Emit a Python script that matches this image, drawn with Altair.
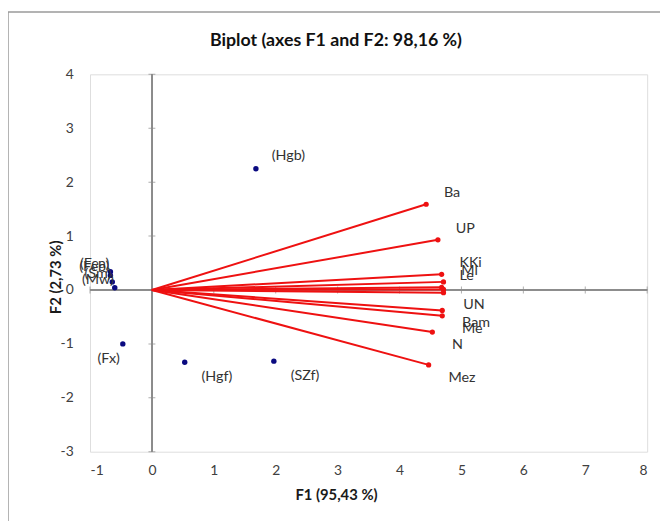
import altair as alt
import pandas as pd

# Variables (vectors)
var_names = ["Ba", "UP", "KKi", "Ml", "Le", "", "UN", "Bam", "Me", "N", "Mez"]
var_f1 = [4.43, 4.62, 4.68, 4.71, 4.68, 4.71, 4.71, 4.69, 4.69, 4.53, 4.47]
var_f2 = [1.59, 0.93, 0.29, 0.15, 0.05, 0.01, -0.05, -0.38, -0.48, -0.78, -1.39]

# Observations
obs_names = ["(Hgb)", "(Fx)", "(Hgf)", "(SZf)", "(Fea)", "(Feb)", "(Sm)", "(Mw)"]
obs_f1 = [1.68, -0.47, 0.53, 1.97, -0.67, -0.67, -0.64, -0.60]
obs_f2 = [2.25, -1.00, -1.34, -1.32, 0.34, 0.27, 0.15, 0.04]

x_ticks = [-1, 0, 1, 2, 3, 4, 5, 6, 7, 8]
y_ticks = [-3, -2, -1, 0, 1, 2, 3, 4]

title_text = "Biplot (axes F1 and F2: 98,16 %)"

W, H = 564, 382
FONT = "Lato"

vars_df = pd.DataFrame({"name": var_names, "f1": var_f1, "f2": var_f2,
                        "x0": 0.0, "y0": 0.0})
obs_df = pd.DataFrame({"name": obs_names, "f1": obs_f1, "f2": obs_f2})
xt_df = pd.DataFrame({"v": x_ticks, "z": 0})
yt_df = pd.DataFrame({"v": y_ticks, "z": 0})

xs = alt.Scale(domain=[-1, 8], nice=False, zero=False)
ys = alt.Scale(domain=[-3, 4], nice=False, zero=False)

lab_expr = "'' + datum.value"
xaxis = alt.Axis(values=x_ticks, ticks=False, grid=False, domain=False,
                 labelPadding=12, labelFontSize=14, labelColor="#404040",
                 labelFont=FONT, labelExpr=lab_expr,
                 title="F1 (95,43 %)", titleFont=FONT,
                 titleFontSize=15, titleFontWeight="bold", titleColor="#1a1a1a",
                 titleX=249, titleY=43, titleBaseline="middle")
yaxis = alt.Axis(values=y_ticks, ticks=False, grid=False, domain=False,
                 labelPadding=17, labelFontSize=14, labelColor="#404040",
                 labelFont=FONT, labelExpr=lab_expr,
                 title="F2 (2,73 %)", titleFont=FONT,
                 titleFontSize=15, titleFontWeight="bold", titleColor="#1a1a1a",
                 titleX=-35, titleY=205, titleBaseline="middle")

frame = alt.Chart(pd.DataFrame({"a": [0]})).mark_rect(
    fill=None, stroke="#9a9a9a", strokeWidth=1.5
).encode(x=alt.value(-83), x2=alt.value(W + 40),
         y=alt.value(-63), y2=alt.value(H + 90))

title = alt.Chart(pd.DataFrame({"t": [title_text]})).mark_text(
    font=FONT, fontSize=18, fontWeight="bold", color="#111111",
    align="center", baseline="alphabetic"
).encode(x=alt.value(249), y=alt.value(-29), text="t:N")

zero_v = alt.Chart(xt_df).mark_rule(color="#8c8c8c", strokeWidth=1).encode(
    x=alt.datum(0, scale=xs, axis=xaxis))
zero_h = alt.Chart(yt_df).mark_rule(color="#8c8c8c", strokeWidth=1).encode(
    y=alt.datum(0, scale=ys, axis=yaxis))

ticks_x = alt.Chart(xt_df).mark_tick(color="#8c8c8c", orient="vertical",
                                     size=7, thickness=1).encode(
    x=alt.X("v:Q", scale=xs, axis=xaxis),
    y=alt.Y("z:Q", scale=ys, axis=yaxis))
ticks_y = alt.Chart(yt_df).mark_tick(color="#8c8c8c", orient="horizontal",
                                     size=7, thickness=1).encode(
    y=alt.Y("v:Q", scale=ys, axis=yaxis),
    x=alt.X("z:Q", scale=xs, axis=xaxis))

vec = alt.Chart(vars_df).mark_rule(color="#ee1111", strokeWidth=2).encode(
    x=alt.X("x0:Q", scale=xs, axis=xaxis),
    y=alt.Y("y0:Q", scale=ys, axis=yaxis),
    x2="f1:Q", y2="f2:Q")
vec_pts = alt.Chart(vars_df).mark_circle(color="#ee1111", size=28, opacity=1).encode(
    x=alt.X("f1:Q", scale=xs, axis=xaxis),
    y=alt.Y("f2:Q", scale=ys, axis=yaxis))

txt_style = dict(font=FONT, fontSize=14.5, color="#333333")
vec_lab_up = alt.Chart(vars_df).transform_filter("datum.f2 >= 0").mark_text(
    align="left", baseline="middle", dx=18, dy=-11, **txt_style).encode(
    x=alt.X("f1:Q", scale=xs, axis=xaxis),
    y=alt.Y("f2:Q", scale=ys, axis=yaxis), text="name:N")
vec_lab_dn = alt.Chart(vars_df).transform_filter("datum.f2 < 0").mark_text(
    align="left", baseline="middle", dx=20, dy=13, **txt_style).encode(
    x=alt.X("f1:Q", scale=xs, axis=xaxis),
    y=alt.Y("f2:Q", scale=ys, axis=yaxis), text="name:N")

obs_pts = alt.Chart(obs_df).mark_circle(color="#0a0a80", size=30, opacity=1).encode(
    x=alt.X("f1:Q", scale=xs, axis=xaxis),
    y=alt.Y("f2:Q", scale=ys, axis=yaxis))

def obs_label(names, **kw):
    flt = alt.FieldOneOfPredicate(field="name", oneOf=names)
    return alt.Chart(obs_df).transform_filter(flt).mark_text(
        baseline="middle", **txt_style, **kw).encode(
        x=alt.X("f1:Q", scale=xs, axis=xaxis),
        y=alt.Y("f2:Q", scale=ys, axis=yaxis), text="name:N")

lab_hgb = obs_label(["(Hgb)"], align="left", dx=16, dy=-13)
lab_fx = obs_label(["(Fx)"], align="right", dx=-3, dy=15)
lab_low = obs_label(["(Hgf)", "(SZf)"], align="left", dx=17, dy=15)
lab_cl = obs_label(["(Fea)", "(Feb)", "(Sm)", "(Mw)"], align="right", dx=-1, dy=-8)

chart = alt.layer(
    frame, title, zero_v, zero_h, ticks_x, ticks_y, vec, vec_pts,
    vec_lab_up, vec_lab_dn, obs_pts, lab_hgb, lab_fx, lab_low, lab_cl
).properties(
    width=W, height=H,
    autosize=alt.AutoSizeParams(type="none"),
    padding={"left": 83, "top": 64, "right": 13, "bottom": 67},
).configure_view(stroke="#8c8c8c", strokeWidth=1.2).configure(background="white")

chart.save("out.html", embed_options={"renderer": "svg", "actions": False})
